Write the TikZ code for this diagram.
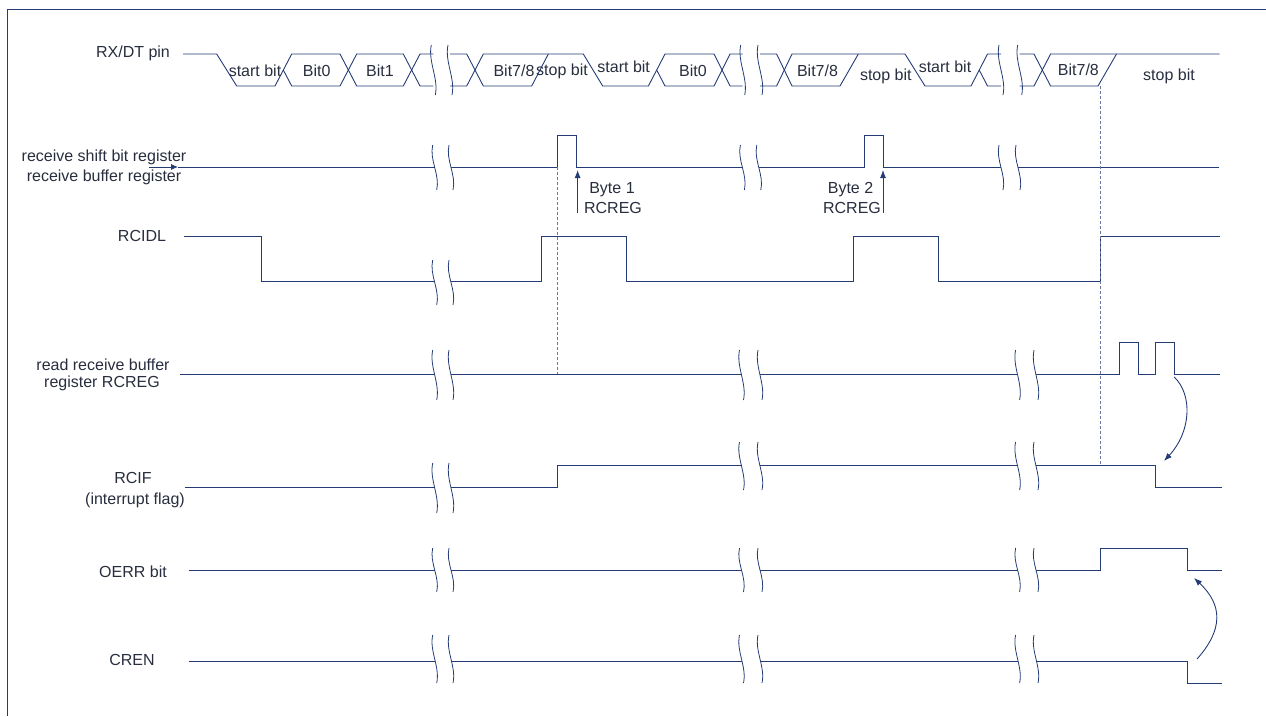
\documentclass[tikz,border=0pt]{standalone}
\usepackage{fontspec}
\setmainfont{Liberation Sans}
\usetikzlibrary{arrows.meta}
\definecolor{ln}{RGB}{36,60,118}
\definecolor{tx}{RGB}{40,46,62}
\definecolor{dsh}{RGB}{105,120,158}
\newcommand\wv[3]{\draw[brk] (#1-2,#2-#3) .. controls (#1-5.5,#2-#3/3) and (#1+5.5,#2+#3/3) .. (#1+2,#2+#3);}
\newcommand\brkp[4]{\wv{#1}{#3}{#4}\wv{#2}{#3}{#4}}
\begin{document}
\begin{tikzpicture}[x=1pt,y=-1pt,
  sig/.style={draw=ln,line width=0.9pt,line join=miter},
  brk/.style={draw=ln,line width=0.8pt},
  lbl/.style={text=tx,font=\fontsize{16}{18}\selectfont,inner sep=0pt,align=center},
  dsh/.style={draw=dsh,line width=0.8pt,dash pattern=on 3pt off 2pt},
  arr/.style={draw=ln,line width=0.9pt,-{Latex[length=8pt,width=6pt]}}]
\useasboundingbox (0,0) rectangle (1266,716);
\draw[ln,line width=1pt] (7,716) -- (7,9) -- (1266,9);

% ---------- labels ----------
\node[lbl] (lrx) at (133,53) {RX/DT pin};
\node[lbl] (lrs1) at (104,157) {receive shift bit register};
\node[lbl] (lrs2) at (104,177) {receive buffer register};
\node[lbl] (lidl) at (142,236) {RCIDL};
\node[lbl] (lrd1) at (103,365) {read receive buffer};
\node[lbl] (lrd2) at (102,383) {register RCREG};
\node[lbl] (lif1) at (133,478) {RCIF};
\node[lbl] (lif2) at (135,500) {(interrupt flag)};
\node[lbl] (loe) at (133,572) {OERR bit};
\node[lbl] (lcr) at (132,660) {CREN};

% ---------- RX/DT pin ----------
\draw[sig] (183,54) -- (216.7,54) -- (236.7,86) -- (275,86) -- (291.7,54) -- (340,54) -- (356.7,86) -- (403.3,86) -- (420,54) -- (433.3,54);
\draw[sig] (283.3,70) -- (291.7,86) -- (340,86) -- (356.7,54) -- (403.3,54) -- (420,86) -- (433.3,86);
\brkp{433.3}{450}{70}{25}
\draw[sig] (450,54) -- (466.7,54) -- (483.3,86) -- (531.7,86) -- (548.3,54);
\draw[sig] (450,86) -- (466.7,86) -- (483.3,54) -- (583.3,54) -- (602.7,86) -- (648.4,86) -- (665,54) -- (714,54) -- (730,86) -- (742.7,86);
\draw[sig] (656.7,70) -- (665,86) -- (714,86) -- (730,54) -- (742.7,54);
\brkp{742.7}{760}{70}{25}
\draw[sig] (760,54) -- (776.6,54) -- (792,86) -- (840,86) -- (858.3,54);
\draw[sig] (760,86) -- (776.6,86) -- (792,54) -- (905,54) -- (925,86) -- (971,86) -- (987.5,54) -- (1001,54);
\draw[sig] (979.2,70) -- (987.5,86) -- (1001,86);
\brkp{1001}{1019.7}{70}{25}
\draw[sig] (1019.7,54) -- (1034,54) -- (1050.6,86) -- (1098,86) -- (1116.5,54);
\draw[sig] (1019.7,86) -- (1034,86) -- (1050.6,54) -- (1219.5,54);

\node[lbl] (s1) at (255,71) {start bit};
\node[lbl] (b01) at (316.7,71) {Bit0};
\node[lbl] (b11) at (380,71) {Bit1};
\node[lbl] (b71) at (514,71) {Bit7/8};
\node[lbl] (p1) at (562,71) {stop bit};
\node[lbl] (s2) at (623.7,67) {start bit};
\node[lbl] (b02) at (693,71) {Bit0};
\node[lbl] (b72) at (817.5,71) {Bit7/8};
\node[lbl] (p2) at (885.8,76.5) {stop bit};
\node[lbl] (s3) at (945,67) {start bit};
\node[lbl] (b73) at (1078.4,70) {Bit7/8};
\node[lbl] (p3) at (1169,76) {stop bit};

% ---------- receive shift / buffer register ----------
\draw[sig,-{Latex[length=7pt,width=6pt]}] (149,167) -- (178,167);
\draw[sig] (178,167) -- (434.7,167);
\brkp{434.7}{451}{167.5}{22.5}
\draw[sig] (451,167) -- (557.6,167) -- (557.6,135) -- (576.3,135) -- (576.3,167) -- (742.4,167);
\brkp{742.4}{758.8}{167.5}{22.5}
\draw[sig] (758.8,167) -- (864,167) -- (864,135) -- (883,135) -- (883,167) -- (1001,167);
\brkp{1001}{1018}{167.5}{22.5}
\draw[sig] (1018,167) -- (1219,167);
\coordinate (a1s) at (577.6,213);
\coordinate (a1e) at (577.6,170);
\coordinate (a2s) at (883,213);
\coordinate (a2e) at (883,170);
\draw[arr] (a1s) -- (a1e);
\draw[arr] (a2s) -- (a2e);
\node[lbl] (by1) at (612,190) {Byte 1};
\node[lbl] (rc1) at (613,208) {RCREG};
\node[lbl] (by2) at (850.5,190) {Byte 2};
\node[lbl] (rc2) at (852,208) {RCREG};

% ---------- RCIDL ----------
\draw[sig] (184,236) -- (261,236) -- (261,281.7) -- (434.7,281.7);
\brkp{434.7}{451}{282.5}{22.5}
\draw[sig] (451,281.7) -- (541,281.7) -- (541,236) -- (626,236) -- (626,281.7) -- (853.6,281.7) -- (853.6,236) -- (938,236) -- (938,281.7) -- (1100.8,281.7) -- (1100.8,236) -- (1220,236);

% ---------- read receive buffer register RCREG ----------
\draw[sig] (180,374) -- (434.7,374);
\brkp{434.7}{451}{375}{25}
\draw[sig] (451,374) -- (741.5,374);
\brkp{741.5}{760}{375}{25}
\draw[sig] (760,374) -- (1017.6,374);
\brkp{1017.6}{1036}{375}{25}
\draw[sig] (1036,374) -- (1119.4,374) -- (1119.4,342.7) -- (1138,342.7) -- (1138,374) -- (1155.6,374) -- (1155.6,342.7) -- (1174.2,342.7) -- (1174.2,374) -- (1220.3,374);

% ---------- RCIF ----------
\draw[sig] (184.5,487.7) -- (434.7,487.7);
\brkp{434.7}{451}{488}{25}
\draw[sig] (451,487.7) -- (557.6,487.7) -- (557.6,465) -- (741.5,465);
\brkp{741.5}{760}{466}{24}
\draw[sig] (760,465) -- (1017.6,465);
\brkp{1017.6}{1036}{466}{24}
\draw[sig] (1036,465) -- (1155.6,465) -- (1155.6,487.7) -- (1222,487.7);

% ---------- OERR ----------
\draw[sig] (188.6,570.7) -- (434.7,570.7);
\brkp{434.7}{451}{570}{22}
\draw[sig] (451,570.7) -- (741.5,570.7);
\brkp{741.5}{760}{570}{22}
\draw[sig] (760,570.7) -- (1017.6,570.7);
\brkp{1017.6}{1036}{570}{22}
\draw[sig] (1036,570.7) -- (1100.8,570.7) -- (1100.8,548.3) -- (1187.8,548.3) -- (1187.8,570.7) -- (1222,570.7);

% ---------- CREN ----------
\draw[sig] (188.6,661.7) -- (434.7,661.7);
\brkp{434.7}{451}{659}{24}
\draw[sig] (451,661.7) -- (741.5,661.7);
\brkp{741.5}{760}{659}{24}
\draw[sig] (760,661.7) -- (1017.6,661.7);
\brkp{1017.6}{1036}{659}{24}
\draw[sig] (1036,661.7) -- (1187.8,661.7) -- (1187.8,683.3) -- (1222,683.3);

% ---------- dashed guides ----------
\coordinate (d1t) at (557.6,167);
\coordinate (d1b) at (557.6,374);
\coordinate (d2t) at (1100.8,86);
\coordinate (d2b) at (1100.8,465);
\draw[dsh] (d1t) -- (d1b);
\draw[dsh] (d2t) -- (d2b);

% ---------- curved arrows ----------
\coordinate (c1s) at (1174.2,377);
\coordinate (c1e) at (1164,461);
\coordinate (c2s) at (1197,659);
\coordinate (c2e) at (1194,578);
\draw[arr] (c1s) .. controls (1193,395) and (1191,432) .. (c1e);
\draw[arr] (c2s) .. controls (1223,630) and (1223,605) .. (c2e);
\end{tikzpicture}
\end{document}
